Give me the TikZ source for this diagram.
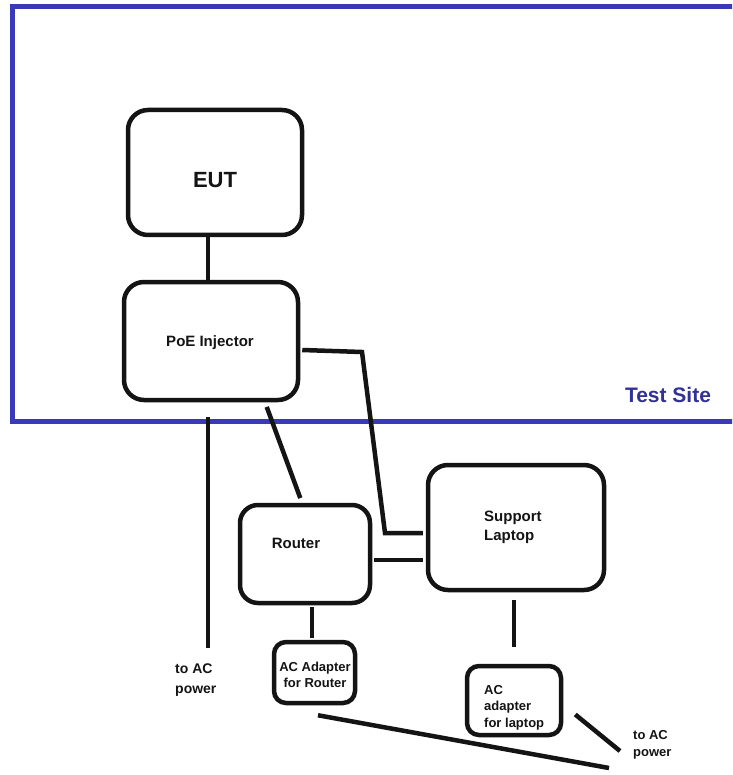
\documentclass[tikz,border=0pt]{standalone}
\usepackage{fontspec}
\setmainfont{Liberation Sans}
\definecolor{siteblue}{RGB}{58,58,185}
\definecolor{sitetext}{RGB}{50,50,150}
\definecolor{ink}{RGB}{20,20,20}
\begin{document}
\begin{tikzpicture}[x=1pt,y=-1pt,
  box/.style={draw=ink,line width=4.5pt,rounded corners=20pt,inner sep=0pt},
  smallbox/.style={draw=ink,line width=4.5pt,rounded corners=12pt,inner sep=0pt},
  wire/.style={draw=ink,line width=4.5pt},
  lbl/.style={text=ink,inner sep=0pt,align=left,font=\bfseries\fontsize{15}{19}\selectfont},
  tiny/.style={text=ink,inner sep=0pt,align=left,font=\bfseries\fontsize{13}{16.5}\selectfont}]
\useasboundingbox (0,0) rectangle (732,775);
\clip (0,0) rectangle (732,775);
\fill[white] (0,0) rectangle (732,775);
% test site frame
\draw[siteblue,line width=5pt] (12,7) rectangle (760,421);
\node[text=sitetext,inner sep=0pt,font=\bfseries\fontsize{21}{24}\selectfont] (site) at (668,395) {Test Site};
% boxes
\node[box,minimum width=174pt,minimum height=125pt] (eut) at (215,172.5) {};
\node[box,minimum width=174pt,minimum height=118pt] (poe) at (211,341) {};
\node[box,rounded corners=18pt,minimum width=130pt,minimum height=98pt] (router) at (305,554) {};
\node[box,minimum width=176pt,minimum height=125pt] (laptop) at (516,527.5) {};
\node[smallbox,minimum width=81pt,minimum height=61pt] (adr) at (314.5,672.5) {};
\node[smallbox,minimum width=94pt,minimum height=69pt] (adl) at (514,700.5) {};
% texts
\node[text=ink,inner sep=0pt,font=\bfseries\fontsize{22}{26}\selectfont] (eutt) at (215,180) {EUT};
\node[lbl] (poet) at (210,343) {PoE Injector};
\node[lbl] (routert) at (296,543) {Router};
\node[lbl,anchor=west] (laptopt) at (484,527) {Support\\Laptop};
\node[tiny,align=center] (adrt) at (315,675) {AC Adapter\\for Router};
\node[tiny,anchor=north west] (adlt) at (484,685) {AC\\adapter\\for laptop};
\node[tiny,anchor=west,font=\bfseries\fontsize{14}{20}\selectfont] (acl) at (175,680) {to AC\\power};
\node[tiny,anchor=west] (acr) at (633,745) {to AC\\power};
% free ends
\coordinate (acLend) at (208,648);
\coordinate (farend) at (609,768);
% connectors
\draw[wire] ([xshift=-7pt]eut.south) -- ([xshift=-3pt]poe.north);
\draw[wire] ([xshift=-3pt,yshift=-15pt]poe.south) -- (acLend);
\draw[wire,shorten <=5pt,shorten >=5pt] ([xshift=54pt]poe.south) -- ([xshift=-3pt]router.north);
\draw[wire] ([xshift=2pt,yshift=-9pt]poe.east) -- (362,352) -- (385,533) -- ([xshift=-3pt,yshift=-5.5pt]laptop.west);
\draw[wire] ([xshift=2pt,yshift=-6pt]router.east) -- ([xshift=-3pt,yshift=-32.5pt]laptop.west);
\draw[wire] ([xshift=7pt,yshift=-2pt]router.south) -- ([xshift=-2.5pt,yshift=2pt]adr.north);
\draw[wire,shorten <=8pt,shorten >=17pt] ([xshift=-2pt]laptop.south) -- (adl.north);
\draw[wire] ([xshift=12pt,yshift=-14pt]adl.east) -- ([xshift=-13pt,yshift=-6pt]acr.west);
\draw[wire] ([xshift=3.5pt,yshift=-10pt]adr.south) -- (farend);
\end{tikzpicture}
\end{document}
